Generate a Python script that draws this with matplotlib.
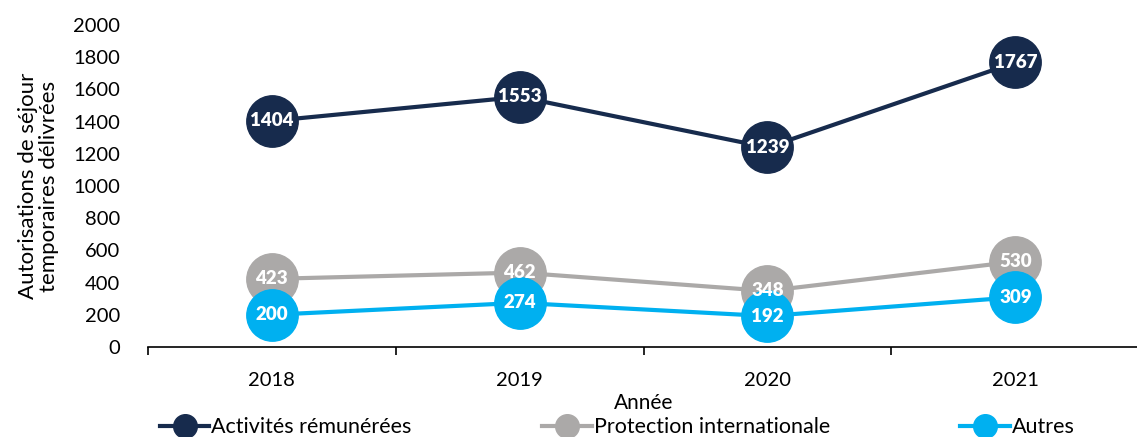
import matplotlib
matplotlib.use("Agg")
import matplotlib.pyplot as plt
from matplotlib.lines import Line2D

years = ["2018", "2019", "2020", "2021"]
activites = [1404, 1553, 1239, 1767]
protection = [423, 462, 348, 530]
autres = [200, 274, 192, 309]
series_names = ["Activités rémunérées", "Protection internationale", "Autres"]
colors = ["#172B4D", "#ABA9A8", "#00B0F0"]

plt.rcParams['font.family'] = ['Lato', 'DejaVu Sans']

fig = plt.figure(figsize=(11.37, 4.37), dpi=100)
ax = fig.add_axes([0.130, 0.206, 0.872, 0.737])

x = list(range(len(years)))
for vals, name, c in zip([activites, protection, autres], series_names, colors):
    ax.plot(x, vals, color=c, lw=3, marker='o', markersize=37, label=name, zorder=3)
    for xi, v in zip(x, vals):
        ax.text(xi, v, str(v), ha='center', va='center', color='white',
                fontsize=13.5, fontweight='heavy', zorder=4)

ax.set_xlim(-0.5, 3.5)
ax.set_ylim(0, 2000)
ax.set_yticks(range(0, 2001, 200))
ax.set_xticks(x)
ax.set_xticklabels(years)
ax.set_xticks([-0.5, 0.5, 1.5, 2.5, 3.5], minor=True)
ax.tick_params(axis='x', which='major', length=0, pad=18, labelsize=14.5)
ax.tick_params(axis='x', which='minor', length=6, width=1.2, direction='out')
ax.tick_params(axis='y', length=0, labelsize=14.5, pad=20)
for s in ['top', 'right', 'left']:
    ax.spines[s].set_visible(False)
ax.spines['bottom'].set_linewidth(1.2)
ax.set_xlabel("Année", fontsize=15, labelpad=3)
ax.set_ylabel("Autorisations de séjour\ntemporaires délivrées", fontsize=16, labelpad=10,
              linespacing=1.1)

handles = [Line2D([0], [0], color=c, lw=3, marker='o', markersize=17) for c in colors]
fig.legend(handles, series_names, loc='lower left', bbox_to_anchor=(0.133, -0.02, 0.82, 0.05),
           ncol=3, mode='expand', frameon=False, fontsize=15.5, handlelength=2.3,
           handletextpad=0.1, borderaxespad=0)

fig.savefig("out.png", dpi=100)
